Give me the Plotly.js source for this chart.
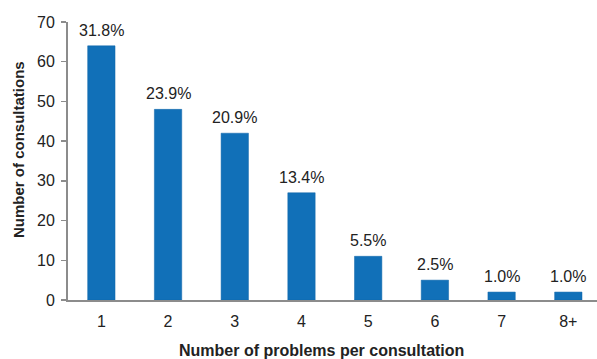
<!DOCTYPE html>
<html><head><meta charset="utf-8">
<script src="https://cdn.plot.ly/plotly-3.0.1.min.js"></script>
<style>body{margin:0;background:#fff}#c{width:597px;height:359px}</style>
</head><body><div id="c"></div>
<script>
const categories = ["1","2","3","4","5","6","7","8+"];
const consultations = [64,48,42,27,11,5,2,2];
const percentLabels = ["31.8%","23.9%","20.9%","13.4%","5.5%","2.5%","1.0%","1.0%"];
const yTicks = [0,10,20,30,40,50,60,70];

const font = "Liberation Sans, Arial, sans-serif";
const trace = {
  type: "bar", x: categories, y: consultations,
  marker: {color: "#1170b8", line: {color: "#0f65a8", width: 0.5}},
  width: 0.41, hoverinfo: "none", cliponaxis: false
};
const annotations = categories.map((c, i) => ({
  x: i, y: consultations[i], text: percentLabels[i], showarrow: false,
  yanchor: "bottom", yshift: 5, font: {family: font, size: 16, color: "#222"}
}));
annotations.push({
  xref: "paper", yref: "paper", x: (321 - 68) / 529, y: -(350 - 300) / 278,
  xanchor: "center", yanchor: "middle", showarrow: false,
  text: "<b>Number of problems per consultation</b>", font: {family: font, size: 16, color: "#222"}
});
annotations.push({
  xref: "paper", yref: "paper", x: -(68 - 18) / 529, y: (300 - 150) / 278,
  xanchor: "center", yanchor: "middle", showarrow: false, textangle: -90,
  text: "<b>Number of consultations</b>", font: {family: font, size: 15, color: "#222"}
});
const layout = {
  width: 597, height: 359,
  margin: {l: 68, r: 0, t: 22, b: 59},
  paper_bgcolor: "#fff", plot_bgcolor: "#fff",
  showlegend: false,
  font: {family: font, color: "#222"},
  xaxis: {
    type: "category", range: [-0.5, 7.43], showline: true, linecolor: "#8c8c8c", linewidth: 2,
    ticks: "", tickfont: {size: 16, color: "#222"}, showgrid: false, ticklabelstandoff: 6
  },
  yaxis: {
    range: [0, 70], tickvals: yTicks, showline: true, linecolor: "#8c8c8c", linewidth: 2,
    ticks: "outside", ticklen: 5, tickcolor: "#8c8c8c", tickwidth: 1.5, ticklabelstandoff: 3,
    tickfont: {size: 16, color: "#222"}, showgrid: false, zeroline: false
  },
  annotations: annotations
};
Plotly.newPlot("c", [trace], layout, {staticPlot: true, displayModeBar: false});
</script></body></html>
